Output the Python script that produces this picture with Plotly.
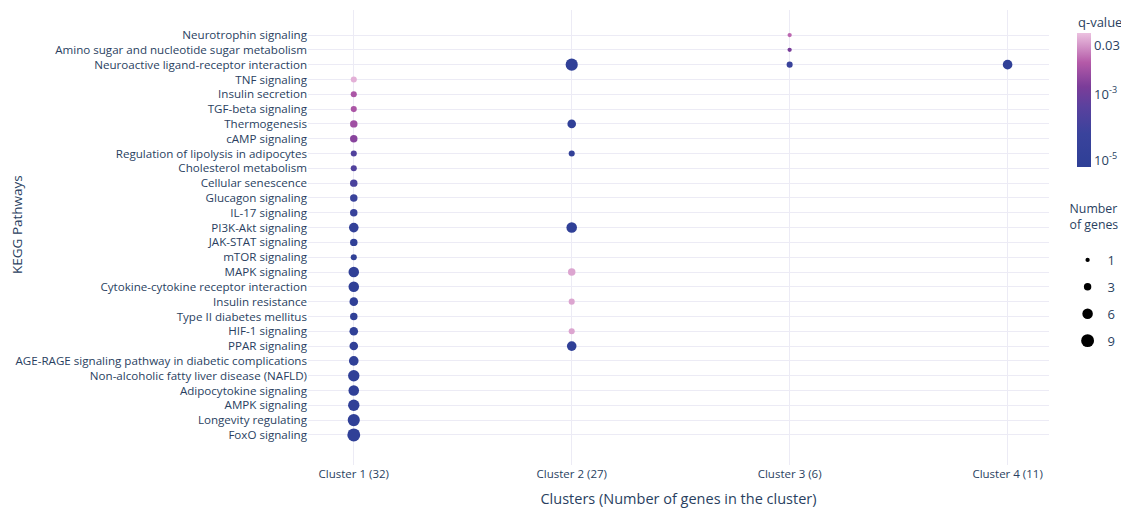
import numpy as np
import plotly.graph_objects as go

# ---- data ----
pathways = [
    "Neurotrophin signaling",
    "Amino sugar and nucleotide sugar metabolism",
    "Neuroactive ligand-receptor interaction",
    "TNF signaling",
    "Insulin secretion",
    "TGF-beta signaling",
    "Thermogenesis",
    "cAMP signaling",
    "Regulation of lipolysis in adipocytes",
    "Cholesterol metabolism",
    "Cellular senescence",
    "Glucagon signaling",
    "IL-17 signaling",
    "PI3K-Akt signaling",
    "JAK-STAT signaling",
    "mTOR signaling",
    "MAPK signaling",
    "Cytokine-cytokine receptor interaction",
    "Insulin resistance",
    "Type II diabetes mellitus",
    "HIF-1 signaling",
    "PPAR signaling",
    "AGE-RAGE signaling pathway in diabetic complications",
    "Non-alcoholic fatty liver disease (NAFLD)",
    "Adipocytokine signaling",
    "AMPK signaling",
    "Longevity regulating",
    "FoxO signaling",
]
clusters = ["Cluster 1 (32)", "Cluster 2 (27)", "Cluster 3 (6)", "Cluster 4 (11)"]

# Cluster 1
c1_pathways = pathways[3:]
c1_genes = [2, 2, 2, 3, 3, 2, 2, 3, 3, 3, 5, 3, 2, 6, 6, 4, 3, 4, 4, 5, 7, 6, 7, 8, 9]
c1_q = [0.05, 7e-3, 7e-3, 5e-3, 2.5e-3, 2.5e-4, 2.5e-4, 1.6e-4, 5e-5, 4e-5, 1.5e-5,
        1e-5, 1e-5, 1e-5, 1e-5, 1e-5, 1e-5, 1e-5, 1e-5, 1e-5, 1e-5, 1e-5, 1e-5, 1e-5, 1e-5]

# Cluster 2
c2_pathways = ["Neuroactive ligand-receptor interaction", "Thermogenesis",
               "Regulation of lipolysis in adipocytes", "PI3K-Akt signaling",
               "MAPK signaling", "Insulin resistance", "HIF-1 signaling", "PPAR signaling"]
c2_genes = [8, 4, 2, 6, 3, 2, 2, 5]
c2_q = [1e-5, 1e-5, 1.5e-5, 1e-5, 0.04, 0.04, 0.04, 1e-5]

# Cluster 3
c3_pathways = ["Neurotrophin signaling", "Amino sugar and nucleotide sugar metabolism",
               "Neuroactive ligand-receptor interaction"]
c3_genes = [1, 1, 2]
c3_q = [0.012, 1.5e-3, 5e-5]

# Cluster 4
c4_pathways = ["Neuroactive ligand-receptor interaction"]
c4_genes = [5]
c4_q = [1e-5]

legend_genes = [1, 3, 6, 9]
cbar_tickvals = [0.03, 1e-3, 1e-5]
cbar_ticktext = ["0.03", "10<sup>-3</sup>", "10<sup>-5</sup>"]

# ---- assemble ----
xs, ys, genes, qs = [], [], [], []
for cl, pw, gn, qv in [(clusters[0], c1_pathways, c1_genes, c1_q),
                       (clusters[1], c2_pathways, c2_genes, c2_q),
                       (clusters[2], c3_pathways, c3_genes, c3_q),
                       (clusters[3], c4_pathways, c4_genes, c4_q)]:
    xs += [cl] * len(pw)
    ys += pw
    genes += gn
    qs += qv

genes = np.array(genes, dtype=float)
logq = np.log10(np.array(qs))
SIZE_K = 4.3
diam = SIZE_K * np.sqrt(genes)

colorscale = [
    [0.0, "#2e3f96"],
    [0.25, "#3a439c"],
    [0.45, "#5a419e"],
    [0.6, "#7b3d99"],
    [0.78, "#b45aa8"],
    [1.0, "#ecc2e0"],
]
CMIN, CMAX = -5.21, -1.15

FONT = "Open Sans"
TXT = "#2a3f5f"

# page body has an 8px margin; figure is sized/offset to compensate
W, H = 1121, 508
ML, MR, MT, MB = 300, 80, 2, 51
PW = W - ML - MR
PH = H - MT - MB

fig = go.Figure()
fig.add_trace(go.Scatter(
    x=xs, y=ys, mode="markers", showlegend=False,
    customdata=np.stack([genes, np.array(qs)], axis=1),
    hovertemplate="%{y}<br>%{x}<br>genes: %{customdata[0]}<br>q: %{customdata[1]:.2e}<extra></extra>",
    marker=dict(
        size=diam, color=logq, colorscale=colorscale, cmin=CMIN, cmax=CMAX,
        opacity=1, line=dict(width=0),
        colorbar=dict(
            tickvals=list(np.log10(cbar_tickvals)), ticktext=cbar_ticktext,
            tickfont=dict(size=13, color=TXT, family=FONT),
            thickness=14, lenmode="pixels", len=134, ypad=0, xpad=0,
            x=1 + 28 / PW, xanchor="left", y=0.949, yanchor="top",
            outlinewidth=0, ticks="",
        ),
    ),
))

for i, g in enumerate(legend_genes):
    fig.add_trace(go.Scatter(
        x=[None], y=[None], mode="markers", name=str(g),
        legendgroup=f"g{i}",
        marker=dict(size=SIZE_K * np.sqrt(g), color="black", opacity=1),
    ))

fig.update_layout(
    template="plotly_white",
    width=W, height=H,
    margin=dict(l=ML, r=MR, t=MT, b=MB),
    font=dict(family=FONT, size=12, color=TXT),
    plot_bgcolor="white", paper_bgcolor="white",
    legend=dict(
        title=dict(text="Number<br>of genes<br> ", font=dict(size=12.3, color=TXT, family=FONT)),
        font=dict(size=13, color=TXT, family=FONT),
        x=1.0305 - 4 / PW, xanchor="left", y=0.589, yanchor="top",
        tracegroupgap=7, itemsizing="trace",
    ),
    xaxis=dict(
        type="category", categoryorder="array", categoryarray=clusters,
        range=[-0.21, 3.19], showgrid=True, gridcolor="#ecebf5",
        tickfont=dict(size=11.5),
        title=dict(text="Clusters (Number of genes in the cluster)", font=dict(size=14.5), standoff=14),
    ),
    yaxis=dict(
        type="category", categoryorder="array", categoryarray=pathways[::-1],
        range=[-2.03, 28.69], showgrid=True, gridcolor="#ecebf5",
        tickfont=dict(size=11.6),
    ),
    annotations=[
        dict(
            text="KEGG Pathways", textangle=-90, xref="paper", yref="paper",
            x=(9 - 300) / PW, y=(457 - 217) / PH, xanchor="center", yanchor="middle",
            showarrow=False, font=dict(size=13.5, color=TXT, family=FONT),
        ),
        dict(
            text="q-value", xref="paper", yref="paper",
            x=(1076 - 8 - ML) / PW, y=(465 - 22) / PH, xanchor="left", yanchor="middle",
            showarrow=False, font=dict(size=13, color=TXT, family=FONT),
        ),
    ],
)

fig.write_html("out.html")
